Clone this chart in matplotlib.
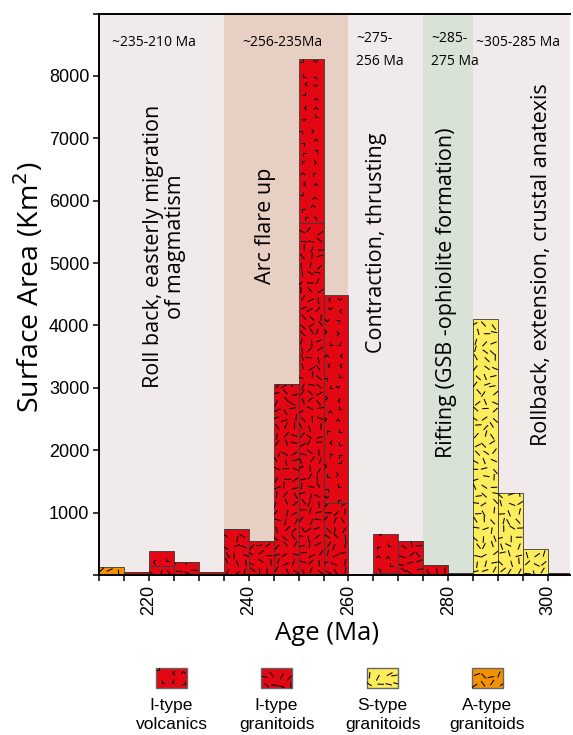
"""
Surface area of magmatic units per 5 Ma age bin, with tectonic stages
"""

import numpy as np
import matplotlib
matplotlib.use("Agg")
import matplotlib.pyplot as plt
from matplotlib.collections import LineCollection
from matplotlib.patches import Rectangle
from matplotlib.transforms import IdentityTransform

# age bins (left edge, 5 Ma wide)
bin_left = [210, 215, 220, 225, 230, 235, 240, 245, 250, 255,
            260, 265, 270, 275, 280, 285, 290, 295, 300]
i_granitoids = [0, 50, 140, 215, 50, 734, 546, 3060, 5640, 1150,
                0, 40, 546, 160, 30, 0, 0, 0, 25]
i_volcanics = [0, 0, 245, 0, 0, 0, 0, 0, 2630, 3340,
               0, 623, 0, 0, 0, 0, 0, 0, 0]
s_granitoids = [0, 0, 0, 0, 0, 0, 0, 0, 0, 0,
                0, 0, 0, 0, 0, 4110, 1320, 410, 0]
a_granitoids = [130, 0, 0, 0, 0, 0, 0, 0, 0, 0,
                0, 0, 0, 0, 0, 0, 0, 0, 0]

# tectonic stages: (start, end, age text, description)
stage_spans = [(210, 235), (235, 260), (260, 275), (275, 285), (285, 305)]
stage_ages = ["~235-210 Ma", "~256-235Ma", "~275-\n256 Ma", "~285-\n275 Ma", "~305-285 Ma"]
stage_text = ["Roll back, easterly migration\nof magmatism", "Arc flare up",
              "Contraction, thrusting", "Rifting (GSB -ophiolite formation)",
              "Rollback, extension, crustal anatexis"]

legend_labels = ["I-type\nvolcanics", "I-type\ngranitoids", "S-type\ngranitoids", "A-type\ngranitoids"]

RED = "#e30613"
YELLOW = "#fdec5c"
ORANGE = "#f39200"
BG = "#f0ebea"
BAND = {1: "#e8cfc3", 3: "#d8e2d7"}

LABEL_FONT = "Open Sans"
TICK_FONT = "Liberation Sans"


# draws a texture (dashes or little angles) clipped to a patch, in pixel units
def add_texture(ax, patch, kind, seed):
    bb = patch.get_window_extent()
    rng = np.random.default_rng(seed)
    segs = []
    if kind == "volc":
        step, arm = 11.0, 3.0
        for gx in np.arange(bb.x0 + 5, bb.x1, step):
            for gy in np.arange(bb.y0 + 5, bb.y1, step):
                cx = gx + rng.uniform(-2, 2)
                cy = gy + rng.uniform(-2, 2)
                a = rng.integers(0, 8) * np.pi / 4
                p1 = (cx + arm * np.cos(a), cy + arm * np.sin(a))
                p2 = (cx + arm * np.cos(a + np.pi / 2), cy + arm * np.sin(a + np.pi / 2))
                segs.append([p1, (cx, cy), p2])
    else:
        step, ln = 8.5, 6.5
        for gx in np.arange(bb.x0 + 3.5, bb.x1, step):
            for gy in np.arange(bb.y0 + 3.5, bb.y1, step):
                cx = gx + rng.uniform(-2.2, 2.2)
                cy = gy + rng.uniform(-2.2, 2.2)
                a = rng.uniform(0, np.pi)
                dx, dy = np.cos(a) * ln / 2, np.sin(a) * ln / 2
                segs.append([(cx - dx, cy - dy), (cx + dx, cy + dy)])
    lc = LineCollection(segs, colors="#000000", linewidths=0.75, transform=IdentityTransform())
    ax.add_collection(lc, autolim=False)
    lc.set_clip_path(patch)


W, H = 573, 735
fig = plt.figure(figsize=(W / 100, H / 100), dpi=100)
ax = fig.add_axes([99 / W, 1 - 575 / H, (570 - 99) / W, (575 - 13.5) / H])
ax.set_facecolor(BG)
ax.set_xlim(210, 304.4)
ax.set_ylim(0, 9000)

# stage background bands
for i, (a, b) in enumerate(stage_spans):
    if i in BAND:
        ax.axvspan(a, b, color=BAND[i], lw=0, zorder=0)

# stacked bars
bottom2 = np.array(i_granitoids)
series = [
    (i_granitoids, np.zeros(len(bin_left)), RED, "dash"),
    (i_volcanics, bottom2, RED, "volc"),
    (s_granitoids, np.zeros(len(bin_left)), YELLOW, "dash"),
    (a_granitoids, np.zeros(len(bin_left)), ORANGE, "dash"),
]
seed = 0
for vals, bot, col, kind in series:
    bars = ax.bar(bin_left, vals, width=5, bottom=bot, align="edge", color=col,
                  edgecolor="#3a3a3a", linewidth=0.6, zorder=2)
    for p, v in zip(bars.patches, vals):
        seed += 1
        if v > 0:
            add_texture(ax, p, kind, seed)

# stage age labels on top
for (a, b), txt in zip(stage_spans, stage_ages):
    if "\n" in txt:
        ax.text(a + 1.5, 8420, txt, fontsize=10, family=LABEL_FONT, ha="left",
                va="center", linespacing=1.7, zorder=5)
    else:
        pos = {210: 221.1, 235: 246.8, 285: 293.9}[a]
        ax.text(pos, 8530, txt, fontsize=10, family=LABEL_FONT, ha="center",
                va="center", zorder=5)

# stage descriptions (vertical)
desc_pos = [(223.2, 5260), (243.4, 5600), (265.6, 5330), (279.6, 4520), (298.6, 4970)]
for (x, y), txt in zip(desc_pos, stage_text):
    ax.text(x, y, txt, rotation=90, fontsize=15.5, family=LABEL_FONT, ha="center",
            va="center", multialignment="center", linespacing=1.05, zorder=5)

# axes styling
for s in ["left", "bottom", "top"]:
    ax.spines[s].set_linewidth(1.4)
ax.spines["right"].set_visible(False)
ax.set_xticks([220, 240, 260, 280, 300])
ax.set_xticks(np.arange(210, 301, 5), minor=True)
ax.set_yticks(np.arange(0, 9001, 1000))
ax.set_yticklabels(["" if v in (0, 9000) else str(v) for v in range(0, 9001, 1000)])
ax.tick_params(axis="both", which="both", direction="out", length=4, width=1.1,
               labelsize=13, pad=3)
for lab in ax.get_xticklabels():
    lab.set_rotation(90)
for lab in ax.get_xticklabels() + ax.get_yticklabels():
    lab.set_family(TICK_FONT)

fig.text(327.5 / W, 1 - 634 / H, "Age (Ma)", fontsize=18.5, family=LABEL_FONT,
         ha="center", va="center")
fig.text(29 / W, 1 - 287 / H, "Surface Area (Km$^2$)", fontsize=20.5, family=LABEL_FONT,
         rotation=90, ha="center", va="center")

# legend drawn in pixel coordinates
lax = fig.add_axes([0, 0, 1, 1])
lax.set_xlim(0, W)
lax.set_ylim(H, 0)
lax.axis("off")
leg_x = [156, 261, 367, 472]
leg_style = [(RED, "volc"), (RED, "dash"), (YELLOW, "dash"), (ORANGE, "dash")]
for k, (x0, (col, kind), lab) in enumerate(zip(leg_x, leg_style, legend_labels)):
    r = Rectangle((x0, 668), 31, 20, facecolor=col, edgecolor="#666666", linewidth=1.0)
    lax.add_patch(r)
    add_texture(lax, r, kind, 100 + k)
    lax.text(x0 + 15.5, 715, lab, fontsize=12.5, family=TICK_FONT, ha="center",
             va="center", linespacing=1.4)

fig.savefig("out.png", dpi=100)
